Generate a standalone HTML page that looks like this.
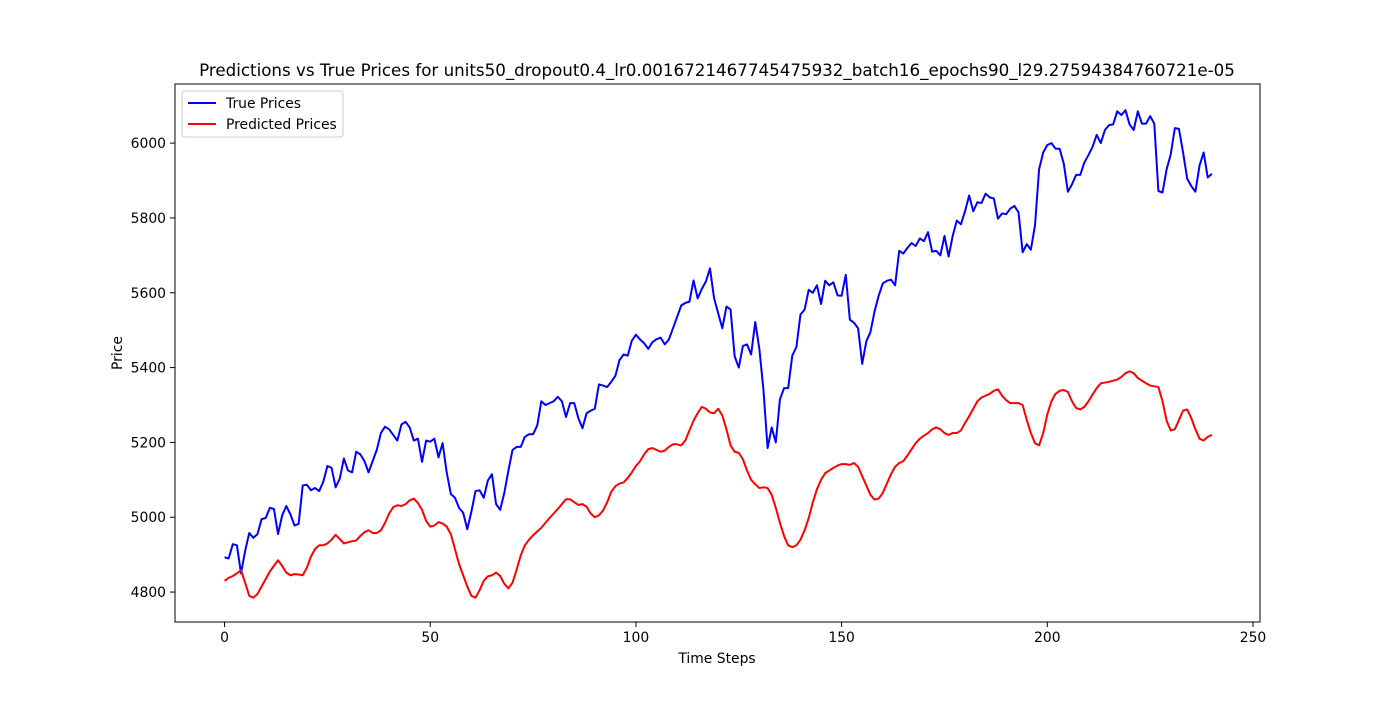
<!DOCTYPE html>
<html><head><meta charset="utf-8"><style>
body{margin:0;background:#fff;}
svg text{font-family:"DejaVu Sans","Liberation Sans",sans-serif;fill:#000;}
</style></head><body>
<svg id="chart" width="1400" height="700" xmlns="http://www.w3.org/2000/svg">
<rect width="1400" height="700" fill="#fff"/>
<text x="717" y="76" font-size="16.7" text-anchor="middle">Predictions vs True Prices for units50_dropout0.4_lr0.0016721467745475932_batch16_epochs90_l29.27594384760721e-05</text>
<g id="axes"></g>
<g id="series"></g>
<rect x="175" y="84" width="1085" height="538" fill="none" stroke="#000" stroke-width="1"/>
<text x="717" y="663" font-size="13.9" text-anchor="middle">Time Steps</text>
<text x="122" y="353" font-size="13.9" text-anchor="middle" transform="rotate(-90 122 353)">Price</text>
<g>
<rect x="182" y="91" width="161" height="46" fill="#fff" stroke="#ccc" rx="3"/>
<line x1="188" y1="103" x2="216" y2="103" stroke="#0000ff" stroke-width="2"/>
<text x="226" y="108" font-size="13.9">True Prices</text>
<line x1="188" y1="124" x2="216" y2="124" stroke="#ff0000" stroke-width="2"/>
<text x="226" y="129" font-size="13.9">Predicted Prices</text>
</g>
</svg>
<script>
const trueValues=[4893,4890,4928,4925,4850,4910,4958,4945,4955,4995,4998,5025,5022,4955,5005,5030,5008,4978,4982,5085,5087,5072,5078,5070,5095,5137,5132,5080,5103,5157,5125,5120,5175,5168,5150,5120,5150,5180,5225,5242,5235,5220,5205,5248,5255,5240,5205,5210,5148,5205,5202,5210,5160,5198,5120,5062,5052,5025,5012,4968,5015,5070,5072,5052,5098,5115,5035,5020,5065,5125,5180,5188,5188,5215,5222,5222,5245,5310,5300,5305,5310,5322,5310,5268,5305,5305,5265,5238,5278,5285,5290,5355,5352,5348,5362,5378,5420,5435,5432,5472,5488,5475,5465,5450,5468,5476,5480,5462,5475,5505,5535,5566,5573,5576,5633,5585,5610,5630,5665,5585,5545,5505,5563,5555,5430,5400,5458,5462,5435,5522,5450,5340,5185,5240,5200,5315,5345,5345,5432,5455,5542,5555,5608,5600,5620,5570,5632,5620,5628,5593,5592,5648,5528,5520,5505,5410,5470,5495,5550,5592,5625,5632,5635,5620,5712,5705,5720,5733,5725,5745,5738,5762,5710,5712,5700,5752,5697,5752,5793,5783,5818,5860,5818,5842,5840,5865,5855,5852,5798,5812,5810,5825,5832,5815,5708,5730,5715,5780,5930,5975,5995,6000,5985,5985,5945,5870,5890,5915,5915,5948,5968,5990,6022,6000,6035,6048,6050,6085,6075,6088,6050,6035,6085,6052,6052,6072,6052,5872,5868,5930,5970,6040,6038,5975,5905,5885,5870,5940,5975,5908,5918];
const predValues=[4830,4838,4843,4850,4858,4825,4790,4785,4795,4815,4835,4855,4870,4885,4870,4852,4845,4848,4847,4845,4865,4895,4915,4925,4925,4930,4940,4953,4942,4930,4933,4936,4938,4950,4960,4965,4958,4958,4965,4985,5010,5027,5032,5030,5035,5045,5050,5038,5020,4990,4975,4978,4987,4983,4975,4955,4915,4875,4845,4815,4790,4785,4805,4830,4842,4845,4852,4843,4822,4810,4825,4860,4898,4925,4940,4952,4962,4972,4985,4998,5010,5022,5035,5048,5048,5040,5033,5035,5028,5010,5000,5005,5018,5040,5068,5083,5090,5093,5105,5120,5137,5150,5168,5182,5185,5180,5175,5178,5188,5195,5195,5192,5205,5232,5258,5278,5295,5290,5280,5278,5290,5272,5235,5192,5175,5172,5155,5125,5100,5088,5078,5080,5078,5060,5025,4985,4950,4925,4920,4925,4940,4965,4998,5040,5075,5100,5118,5125,5132,5138,5142,5142,5140,5145,5135,5110,5085,5060,5047,5050,5065,5090,5115,5135,5145,5150,5165,5182,5198,5210,5218,5225,5235,5240,5235,5225,5220,5225,5225,5232,5252,5270,5290,5310,5320,5325,5330,5338,5342,5325,5313,5305,5305,5305,5300,5260,5225,5198,5192,5225,5275,5310,5330,5338,5340,5335,5310,5292,5288,5295,5310,5328,5345,5358,5360,5362,5365,5368,5375,5385,5390,5385,5372,5365,5358,5352,5350,5348,5310,5258,5232,5235,5260,5285,5288,5265,5235,5210,5205,5215,5220];
const xTicks=[0,50,100,150,200,250];
const yTicks=[4800,5000,5200,5400,5600,5800,6000];
const L=175,R=1260,T=84,B=622;
const xMin=-12.05,xMax=251.7,yMin=4720,yMax=6158;
function sx(v){return L+(v-xMin)/(xMax-xMin)*(R-L);}
function sy(v){return B-(v-yMin)/(yMax-yMin)*(B-T);}
const NS="http://www.w3.org/2000/svg";
const axes=document.getElementById('axes');
xTicks.forEach(t=>{
  const x=sx(t);
  const l=document.createElementNS(NS,'line');
  l.setAttribute('x1',x);l.setAttribute('x2',x);l.setAttribute('y1',B);l.setAttribute('y2',B+5);l.setAttribute('stroke','#000');
  
  
  axes.appendChild(l);
  const tx=document.createElementNS(NS,'text');
  tx.setAttribute('x',x);tx.setAttribute('y',B+20);tx.setAttribute('font-size','13.9');tx.setAttribute('text-anchor','middle');
  tx.textContent=t;
  
  
  axes.appendChild(tx);
});
yTicks.forEach(t=>{
  const y=sy(t);
  const l=document.createElementNS(NS,'line');
  l.setAttribute('x1',L-5);l.setAttribute('x2',L);l.setAttribute('y1',y);l.setAttribute('y2',y);l.setAttribute('stroke','#000');
  
  
  axes.appendChild(l);
  const tx=document.createElementNS(NS,'text');
  tx.setAttribute('x',L-9);tx.setAttribute('y',y+5);tx.setAttribute('font-size','13.9');tx.setAttribute('text-anchor','end');
  tx.textContent=t;
  
  
  axes.appendChild(tx);
});
const ser=document.getElementById('series');
function addLine(vals,color,name){
  const p=document.createElementNS(NS,'polyline');
  p.setAttribute('points',vals.map((v,i)=>sx(i).toFixed(2)+','+sy(v).toFixed(2)).join(' '));
  p.setAttribute('fill','none');p.setAttribute('stroke',color);p.setAttribute('stroke-width','2');p.setAttribute('stroke-linejoin','round');
  
  
  ser.appendChild(p);
}
addLine(trueValues,'#0000ff','true-prices-line');
addLine(predValues,'#ff0000','predicted-prices-line');
</script>
</body></html>
